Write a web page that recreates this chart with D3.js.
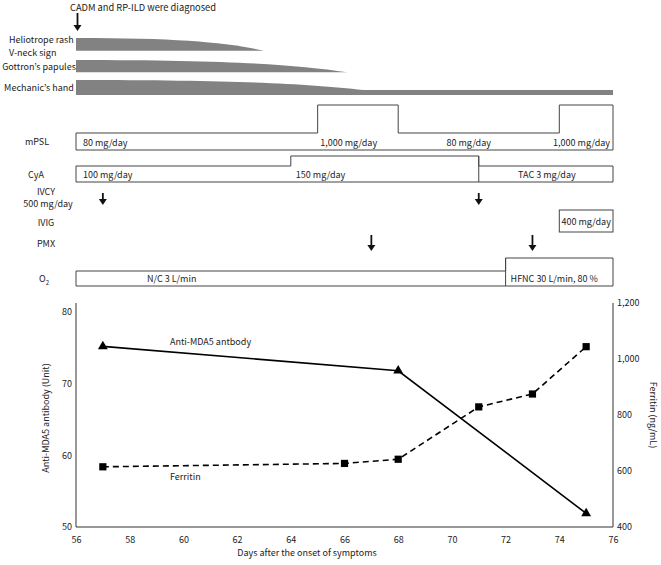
<!DOCTYPE html>
<html><head><meta charset="utf-8">
<script src="https://cdn.jsdelivr.net/npm/d3@7"></script>
<style>
body{margin:0;background:#fff}
text{font-family:"Noto Sans CJK JP","Noto Sans",sans-serif;fill:#222}
</style>
</head><body>
<svg id="c" width="661" height="565"></svg>
<script>
// ---- Lab data ----
const antiDays = [57, 68, 75];
const antiValues = [75.2, 71.8, 51.9];
const ferritinDays = [57, 66, 68, 71, 73, 75];
const ferritinValues = [615, 627, 642, 829, 875, 1044];
const xTicks = [56, 58, 60, 62, 64, 66, 68, 70, 72, 74, 76];
const leftTicks = [50, 60, 70, 80];
const rightTicks = [400, 600, 800, 1000, 1200];

// ---- Timeline data ----
const symptomNames = [["Heliotrope rash", "V-neck sign"], ["Gottron’s papules"], ["Mechanic’s hand"]];
const symptomStart = [56, 56, 56];
const symptomEnd = [63, 66.1, 66.7];
const mechanicTailEnd = 76;
const mpslStart = [56, 65, 68, 74];
const mpslEnd = [65, 68, 74, 76];
const mpslDose = [80, 1000, 80, 1000];
const mpslLabels = ["80 mg/day", "1,000 mg/day", "80 mg/day", "1,000 mg/day"];
const cyaStart = [56, 64, 71];
const cyaEnd = [64, 71, 76];
const cyaLevel = [0, 1, 0];
const cyaLabels = ["100 mg/day", "150 mg/day", "TAC 3 mg/day"];
const ivcyDays = [57, 71];
const pmxDays = [67, 73];
const ivigStart = [74], ivigEnd = [76], ivigLabels = ["400 mg/day"];
const o2Start = [56, 72];
const o2End = [72, 76];
const o2Level = [0, 1];
const o2Labels = ["N/C 3 L/min", "HFNC 30 L/min, 80 %"];

const svg = d3.select("#c");
const x = d3.scaleLinear().domain([56, 76]).range([76, 613]);
const yL = d3.scaleLinear().domain([50, 80]).range([527, 312]);
const yR = d3.scaleLinear().domain([400, 1200]).range([527, 303]);
const FS = 9;

function txt(xp, yp, s, anchor, size) {
  return svg.append("text").attr("x", xp).attr("y", yp).attr("text-anchor", anchor || "start")
    .attr("font-size", size || FS).text(s);
}
function arrow(xp, y0, y1) {
  svg.append("line").attr("x1", xp).attr("x2", xp).attr("y1", y0).attr("y2", y1 - 4)
    .attr("stroke", "#111").attr("stroke-width", 1.8);
  svg.append("path").attr("d", `M${xp - 4},${y1 - 6}L${xp + 4},${y1 - 6}L${xp},${y1}Z`).attr("fill", "#111");
}

// ---- header ----
txt(70, 11, "CADM and RP-ILD were diagnosed", "start", 9.3);
arrow(x(56) + 1.5, 13, 31);

// ---- symptom bars ----
const symTop = [38, 60, 80], symBot = [50.7, 72.3, 95];
symptomNames.forEach((n, i) => {
  const x0 = x(symptomStart[i]), x1 = x(symptomEnd[i]);
  const w = x1 - x0, t = symTop[i];
  let b = symBot[i];
  let endY = b;
  if (i === 2) endY = 90;
  const h = endY - t;
  let d = `M${x0},${b}L${x0},${t}C${x0 + 0.55 * w},${t} ${x0 + 0.8 * w},${t + 0.35 * h} ${x1},${endY}`;
  if (i === 2) d += `L${x(mechanicTailEnd)},${endY}L${x(mechanicTailEnd)},${b}`;
  d += "Z";
  svg.append("path").attr("d", d).attr("fill", "#828282");
});
txt(9, 43, "Heliotrope rash");
txt(9, 56, "V-neck sign");
txt(39, 70, "Gottron’s papules", "middle");
txt(39, 91, "Mechanic’s hand", "middle");

// ---- mPSL ----
const mY = d3.scaleLinear().domain([80, 1000]).range([133, 105]);
const mBot = 150;
(function () {
  let d = `M${x(mpslStart[0])},${mBot}`;
  mpslStart.forEach((s, i) => { d += `L${x(s)},${mY(mpslDose[i])}L${x(mpslEnd[i])},${mY(mpslDose[i])}`; });
  d += `L${x(mpslEnd[mpslEnd.length - 1])},${mBot}Z`;
  svg.append("path").attr("d", d).attr("fill", "#fff").attr("stroke", "#444").attr("stroke-width", 1);
})();
txt(37, 145, "mPSL", "middle");
mpslLabels.forEach((l, i) => {
  if (i === 0 || i === 2) txt(i === 0 ? x(mpslStart[i]) + 7 : (x(mpslStart[i]) + x(mpslEnd[i])) / 2 - 10, 146, l, i === 0 ? "start" : "middle");
  else txt(i === 1 ? x(mpslStart[i]) + 31 : x(mpslEnd[i]) - 3, 146, l, i === 1 ? "middle" : "end");
});

// ---- CyA ----
const cY = d3.scaleLinear().domain([0, 1]).range([166, 156]);
const cBot = 182;
(function () {
  let d = `M${x(cyaStart[0])},${cBot}`;
  cyaStart.forEach((s, i) => { d += `L${x(s)},${cY(cyaLevel[i])}L${x(cyaEnd[i])},${cY(cyaLevel[i])}`; });
  d += `L${x(cyaEnd[cyaEnd.length - 1])},${cBot}Z`;
  svg.append("path").attr("d", d).attr("fill", "#fff").attr("stroke", "#444").attr("stroke-width", 1);
  svg.append("line").attr("x1", x(cyaStart[2])).attr("x2", x(cyaStart[2])).attr("y1", cY(1)).attr("y2", cBot)
    .attr("stroke", "#444");
})();
txt(36, 178, "CyA", "middle");
txt(x(cyaStart[0]) + 7, 178, cyaLabels[0]);
txt(x(cyaStart[1]) + 5, 178, cyaLabels[1]);
txt((x(cyaStart[2]) + x(cyaEnd[2])) / 2 + 1, 178, cyaLabels[2], "middle");

// ---- IVCY ----
txt(46, 195, "IVCY", "middle");
txt(48, 207, "500 mg/day", "middle");
ivcyDays.forEach(dd => arrow(x(dd), 193, 205));

// ---- IVIG ----
txt(46, 226, "IVIG", "middle");
ivigStart.forEach((s, i) => {
  svg.append("rect").attr("x", x(s)).attr("y", 210).attr("width", x(ivigEnd[i]) - x(s)).attr("height", 22)
    .attr("fill", "#fff").attr("stroke", "#444");
  txt((x(s) + x(ivigEnd[i])) / 2, 225, ivigLabels[i], "middle");
});

// ---- PMX ----
txt(46, 247, "PMX", "middle");
pmxDays.forEach(dd => arrow(x(dd), 235, 251));

// ---- O2 ----
const oY = d3.scaleLinear().domain([0, 1]).range([271, 258]);
const oBot = 286;
(function () {
  let d = `M${x(o2Start[0])},${oBot}`;
  o2Start.forEach((s, i) => { d += `L${x(s)},${oY(o2Level[i])}L${x(o2End[i])},${oY(o2Level[i])}`; });
  d += `L${x(o2End[o2End.length - 1])},${oBot}Z`;
  svg.append("path").attr("d", d).attr("fill", "#fff").attr("stroke", "#444").attr("stroke-width", 1);
  svg.append("line").attr("x1", x(o2Start[1])).attr("x2", x(o2Start[1])).attr("y1", oY(1)).attr("y2", oBot).attr("stroke", "#444");
})();
const o2t = svg.append("text").attr("x", 44).attr("y", 282).attr("text-anchor", "middle").attr("font-size", FS);
o2t.append("tspan").text("O");
o2t.append("tspan").attr("font-size", 6).attr("dy", 3).text("2");
txt(147, 282, o2Labels[0]);
txt(x(o2Start[1]) + 5, 282, o2Labels[1]);

// ---- lab chart ----
const axisCol = "#333";
const gx = svg.append("g").attr("transform", `translate(0,${yL(50)})`)
  .call(d3.axisBottom(x).tickValues(xTicks).tickSize(0).tickPadding(10));
const gl = svg.append("g").attr("transform", `translate(${x(56)},0)`)
  .call(d3.axisLeft(yL).tickValues(leftTicks).tickSize(0).tickPadding(4));
const gr = svg.append("g").attr("transform", `translate(${x(76)},0)`)
  .call(d3.axisRight(yR).tickValues(rightTicks).tickSize(0).tickPadding(4).tickFormat(d3.format(",")));
[gx, gl, gr].forEach(g => { g.select(".domain").remove(); g.selectAll("text").attr("font-size", FS).attr("fill", "#222").attr("font-family", '"Noto Sans CJK JP","Noto Sans",sans-serif'); });
svg.append("path").attr("d", `M${x(56)},${yR(1200)}L${x(56)},${yL(50)}L${x(76)},${yL(50)}L${x(76)},${yR(1200)}`)
  .attr("fill", "none").attr("stroke", axisCol).attr("stroke-width", 1);

// lines
const antiData = antiDays.map((d, i) => [d, antiValues[i]]);
const ferData = ferritinDays.map((d, i) => [d, ferritinValues[i]]);
svg.append("path").datum(antiData).attr("d", d3.line().x(d => x(d[0])).y(d => yL(d[1])))
  .attr("fill", "none").attr("stroke", "#000").attr("stroke-width", 1.6);
svg.append("path").datum(ferData).attr("d", d3.line().x(d => x(d[0])).y(d => yR(d[1])))
  .attr("fill", "none").attr("stroke", "#000").attr("stroke-width", 1.6).attr("stroke-dasharray", "6,4");
svg.selectAll(".tri").data(antiData).enter().append("path")
  .attr("transform", d => `translate(${x(d[0])},${yL(d[1])})`)
  .attr("d", d3.symbol(d3.symbolTriangle, 42)).attr("fill", "#000");
svg.selectAll(".sq").data(ferData).enter().append("path")
  .attr("transform", d => `translate(${x(d[0])},${yR(d[1])})`)
  .attr("d", d3.symbol(d3.symbolSquare, 52)).attr("fill", "#000");

txt(170, 345, "Anti-MDA5 antbody");
txt(170, 480, "Ferritin");
txt(307, 556, "Days after the onset of symptoms", "middle");
svg.append("text").attr("transform", `translate(49,${(yL(50) + yR(1200)) / 2 + 3}) rotate(-90)`)
  .attr("text-anchor", "middle").attr("font-size", FS).text("Anti-MDA5 antibody (Unit)");
svg.append("text").attr("transform", `translate(650,${(yL(50) + yR(1200)) / 2}) rotate(90)`)
  .attr("text-anchor", "middle").attr("font-size", FS).text("Ferritin (ng/mL)");
</script>
</body></html>
